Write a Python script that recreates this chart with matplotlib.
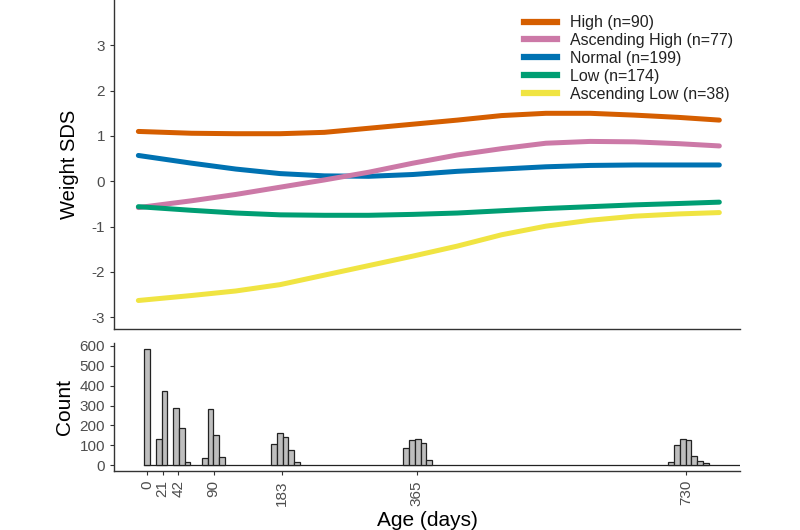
import numpy as np
import matplotlib
matplotlib.use("Agg")
import matplotlib.pyplot as plt
from matplotlib.lines import Line2D

plt.rcParams['font.family'] = ['Liberation Sans', 'DejaVu Sans']
plt.rcParams['axes.unicode_minus'] = False

# ---- data ----
days = [-12, 60, 120, 180, 240, 300, 360, 420, 480, 540, 600, 660, 720, 775]
high = [1.10, 1.06, 1.05, 1.05, 1.08, 1.17, 1.26, 1.35, 1.45, 1.50, 1.50, 1.46, 1.41, 1.35]
asc_high = [-0.58, -0.43, -0.29, -0.13, 0.03, 0.20, 0.40, 0.58, 0.72, 0.84, 0.88, 0.87, 0.83, 0.78]
normal = [0.57, 0.40, 0.27, 0.17, 0.12, 0.11, 0.15, 0.22, 0.27, 0.32, 0.35, 0.36, 0.36, 0.36]
low = [-0.56, -0.64, -0.70, -0.74, -0.75, -0.75, -0.73, -0.70, -0.65, -0.60, -0.56, -0.52, -0.49, -0.46]
asc_low = [-2.63, -2.52, -2.42, -2.28, -2.07, -1.86, -1.65, -1.43, -1.18, -0.99, -0.86, -0.77, -0.72, -0.69]

labels = ["High (n=90)", "Ascending High (n=77)", "Normal (n=199)", "Low (n=174)", "Ascending Low (n=38)"]
colors = ["#D55E00", "#CC79A7", "#0072B2", "#009E73", "#F0E442"]
series = [high, asc_high, normal, low, asc_low]
draw_order = [0, 2, 1, 3, 4]

bin_width = 7.8
n_bins = 104
hist_bins = [0, 2, 3, 5, 6, 7, 10, 11, 12, 13, 22, 23, 24, 25, 26,
             45, 46, 47, 48, 49, 91, 92, 93, 94, 95, 96, 97]
hist_counts = [582, 130, 371, 286, 186, 16, 38, 281, 154, 43, 105, 160, 142, 78, 15,
               85, 125, 132, 114, 26, 17, 102, 132, 127, 45, 22, 12]

xticks = [0, 21, 42, 90, 183, 365, 730]
yticks_top = [-3, -2, -1, 0, 1, 2, 3]
yticks_bot = [0, 100, 200, 300, 400, 500, 600]

# ---- figure ----
fig = plt.figure(figsize=(8, 5.3), dpi=100)
ax1 = fig.add_axes([0.1425, 0.380, 0.7825, 0.620])
ax2 = fig.add_axes([0.1425, 0.1113, 0.7825, 0.2415])

spine_col = "#333333"
tick_col = "#4D4D4D"
xlim = (-45, 803)

for ax in (ax1, ax2):
    for s in ("top", "right"):
        ax.spines[s].set_visible(False)
    for s in ("left", "bottom"):
        ax.spines[s].set_color(spine_col)
        ax.spines[s].set_linewidth(1.0)
    ax.tick_params(direction="out", length=3, width=0.8, color=spine_col,
                   labelcolor=tick_col, labelsize=11)
    ax.set_xlim(*xlim)

for i in draw_order:
    ax1.plot(days, series[i], color=colors[i], lw=3.6, solid_capstyle="round",
             solid_joinstyle="round")
ax1.set_ylim(-3.25, 4.0)
ax1.set_yticks(yticks_top)
ax1.set_xticks([])
ax1.set_ylabel("Weight SDS", fontsize=14.5, labelpad=9)

leg_handles = [Line2D([0], [0], color=c, lw=4.5) for c in colors]
leg = ax1.legend(leg_handles, labels, loc="upper left", bbox_to_anchor=(0.630, 1.0),
                 frameon=False, fontsize=11.5, handlelength=2.1, handletextpad=0.8,
                 labelspacing=0.18, borderaxespad=0.55)
for t in leg.get_texts():
    t.set_color("#222222")

# histogram
centers = np.array(hist_bins) * bin_width
ax2.bar(centers, hist_counts, width=bin_width, color="#BEBEBE", edgecolor="#222222",
        linewidth=0.9, zorder=3)
ax2.plot([-bin_width / 2, (n_bins - 0.5) * bin_width], [0, 0], color="#222222",
         lw=0.9, zorder=2)
ax2.set_ylim(-29, 614)
ax2.set_yticks(yticks_bot)
ax2.set_xticks(xticks)
ax2.set_xticklabels([str(x) for x in xticks], rotation=90)
ax2.set_ylabel("Count", fontsize=15, labelpad=4)
ax2.set_xlabel("Age (days)", fontsize=15, labelpad=4)

fig.savefig("out.png", dpi=100)
